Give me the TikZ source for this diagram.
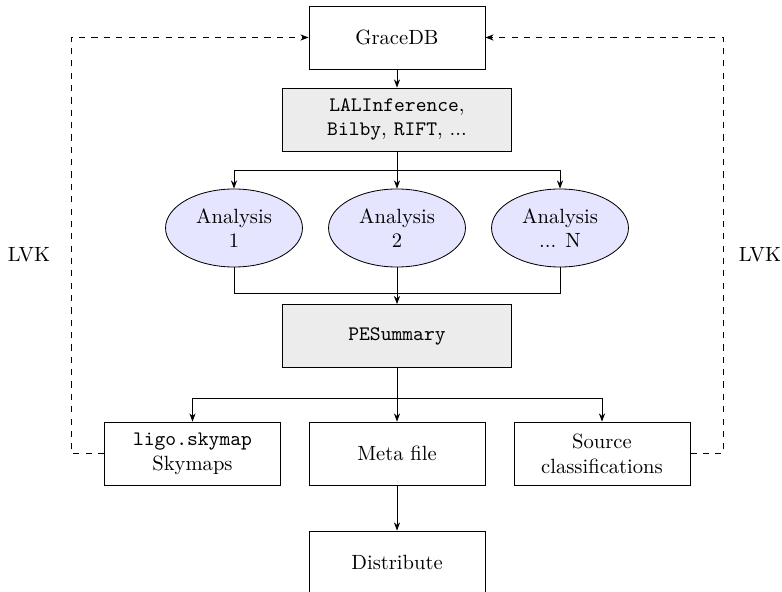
\documentclass[tikz,border=0pt]{standalone}
\usetikzlibrary{arrows.meta,shapes.geometric}
\begin{document}
\begin{tikzpicture}[x=0.4857pt,y=-0.4857pt,
  box/.style={draw,rectangle,minimum width=85.5pt,minimum height=30.6pt,align=center,inner sep=2pt},
  graybox/.style={box,fill=gray!15,minimum width=111.5pt},
  ana/.style={draw,ellipse,fill=blue!10,minimum width=66.5pt,minimum height=37.9pt,align=center,inner sep=1pt},
  arr/.style={-{Stealth[length=4pt,width=3pt]}},
  dasharr/.style={dashed,-{Stealth[length=4pt,width=3pt]}}]
\useasboundingbox (0,0) rectangle (782,592);
\node[box] (grace) at (397,37.5) {GraceDB};
\node[graybox] (lal) at (397,119.5) {\texttt{LALInference},\\\texttt{Bilby}, \texttt{RIFT}, ...};
\node[ana] (e1) at (234,228) {Analysis\\1};
\node[ana] (e2) at (397,228) {Analysis\\2};
\node[ana] (e3) at (560,228) {Analysis\\... N};
\node[graybox] (pes) at (397,336) {\texttt{PESummary}};
\node[box] (sky) at (192.5,453.5) {\texttt{ligo.skymap}\\Skymaps};
\node[box] (meta) at (397,453.5) {Meta file};
\node[box] (src) at (602,453.5) {Source\\classifications};
\node[box] (dist) at (397,562.5) {Distribute};
\node (lvkl) at (29,255) {LVK};
\node (lvkr) at (760,255) {LVK};
\coordinate (b1) at (397,170);
\coordinate (b2) at (397,293);
\coordinate (b3) at (397,398);
\draw[arr] (grace) -- (lal);
\draw (lal.south) -- (b1);
\draw (b1 -| e1) -- (b1 -| e3);
\draw[arr] (e1 |- b1) -- (e1.north);
\draw[arr] (b1) -- (e2.north);
\draw[arr] (e3 |- b1) -- (e3.north);
\draw (e1.south) -- (e1 |- b2) -- (e3 |- b2) -- (e3.south);
\draw[arr] (e2.south) -- (pes.north);
\draw (pes.south) -- (b3);
\draw (b3 -| sky) -- (b3 -| src);
\draw[arr] (sky |- b3) -- (sky.north);
\draw[arr] (b3) -- (meta.north);
\draw[arr] (src |- b3) -- (src.north);
\draw[arr] (meta) -- (dist);
\draw[dasharr] (sky.west) -- ++(-33,0) |- (grace.west);
\draw[dasharr] (src.east) -- ++(33,0) |- (grace.east);
\end{tikzpicture}
\end{document}
